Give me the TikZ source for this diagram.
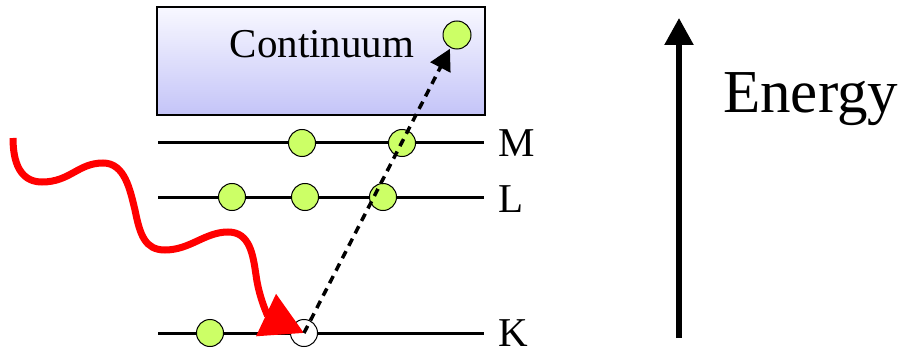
\documentclass[tikz,border=0pt]{standalone}
\usepackage{fontspec}
\setmainfont{Liberation Serif}
\usetikzlibrary{arrows.meta}
\definecolor{elec}{RGB}{204,255,102}
\definecolor{contTop}{RGB}{248,248,255}
\definecolor{contBot}{RGB}{196,196,248}
\begin{document}
\begin{tikzpicture}[x=1pt,y=-1pt,
  level/.style={line width=3pt},
  electron/.style={circle,draw,line width=1pt,fill=elec,minimum size=27pt,inner sep=0pt},
  holecirc/.style={circle,draw,line width=1pt,fill=white,minimum size=27pt,inner sep=0pt},
  lbl/.style={anchor=base west,inner sep=0pt,font=\fontsize{41}{41}\selectfont},
  photon/.style={red,line width=7pt,-{Triangle[length=42pt,width=45pt]}},
  transition/.style={line width=3.5pt,dash pattern=on 8pt off 6pt,-{Triangle[length=21pt,width=22pt]},shorten >=1pt},
  energyarrow/.style={line width=5.5pt,-{Triangle[length=27pt,width=28pt]}}]

\useasboundingbox (0,0) rectangle (916,350);

% continuum box
\node[draw,line width=1.3pt,top color=contTop,bottom color=contBot,minimum width=328pt,minimum height=108pt,inner sep=0pt] (box) at (321,61) {};
\node[lbl,anchor=base] (conttext) at (322,58) {Continuum};

% levels
\coordinate (Ma) at (158,143); \coordinate (Mb) at (484,143);
\coordinate (La) at (158,197); \coordinate (Lb) at (484,197);
\coordinate (Ka) at (158,333); \coordinate (Kb) at (484,333);
\draw[level] (Ma) -- (Mb);
\draw[level] (La) -- (Lb);
\draw[level] (Ka) -- (Kb);

\node[lbl] (Mlbl) at (498,157) {M};
\node[lbl] (Llbl) at (498,212) {L};
\node[lbl] (Klbl) at (498,346) {K};

% electrons
\node[electron] (M1) at (302,143) {};
\node[electron] (M2) at (402,143) {};
\node[electron] (L1) at (232,197) {};
\node[electron] (L2) at (305,197) {};
\node[electron] (L3) at (383,197) {};
\node[electron] (K1) at (210,333) {};
\node[holecirc] (hole) at (304,333) {};
\node[electron,minimum size=28pt] (cont) at (457,35) {};

% photon
\coordinate (ph0) at (13,138);
\draw[photon] (ph0) .. controls (13,170) and (25,182) .. (42,182)
  .. controls (70,182) and (78,163) .. (103,163)
  .. controls (125,163) and (130,190) .. (135,210)
  .. controls (140,235) and (145,250) .. (165,250)
  .. controls (190,250) and (205,232) .. (228,232)
  .. controls (250,232) and (253,255) .. (256,275)
  .. controls (259,298) and (268,316) .. (hole.center);

% transition
\draw[transition] (hole.center) -- (cont);

% energy axis
\coordinate (E0) at (679,338);
\coordinate (E1) at (679,18);
\draw[energyarrow] (E0) -- (E1);
\node[lbl,font=\fontsize{61}{61}\selectfont] (energy) at (723,113) {Energy};
\end{tikzpicture}
\end{document}
